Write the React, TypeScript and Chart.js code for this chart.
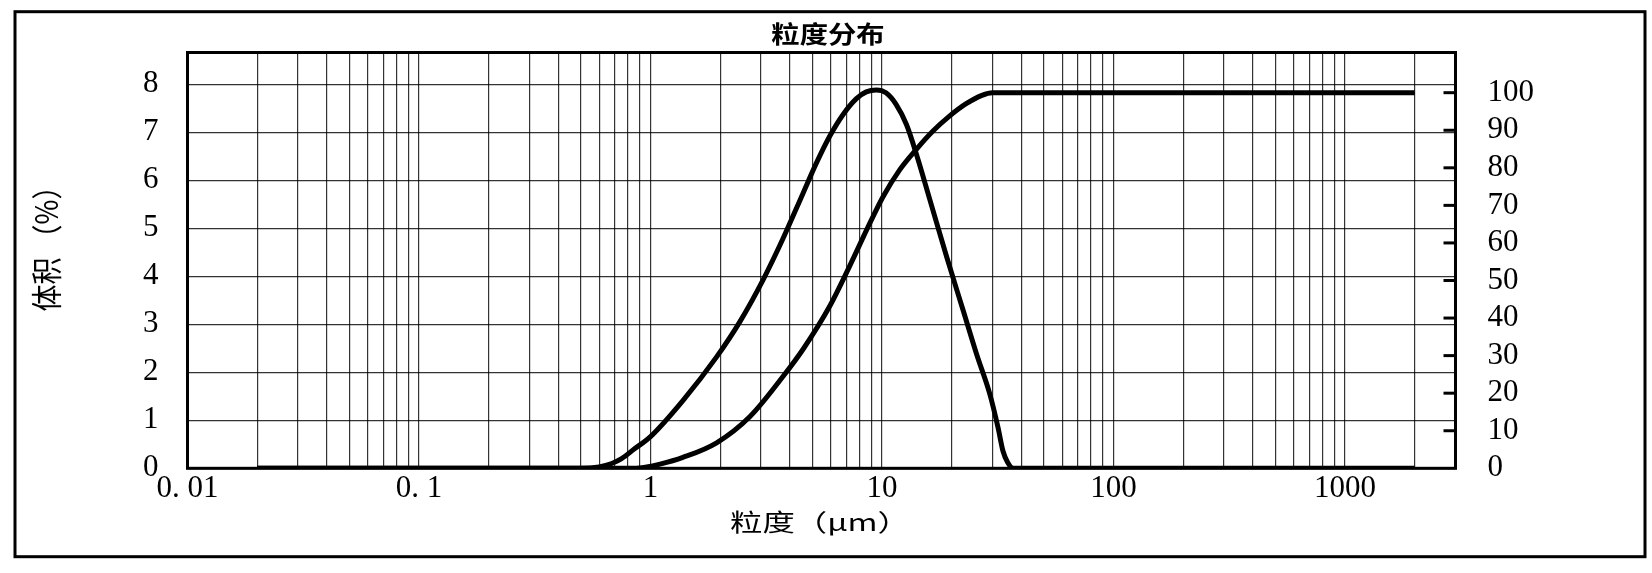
import React, { useEffect, useRef } from 'react';
import { Chart, registerables } from 'chart.js';

Chart.register(...registerables);

const W = 1652;
const H = 573;

// Frequency curve (体积 %, left axis)
const freqSizes = [0.02, 0.5, 0.6, 0.68, 0.75, 0.85, 1.0, 1.38, 1.93, 2.43, 3.06, 3.74, 4.56, 5.21, 5.95, 6.79, 7.75, 8.55, 9.45, 10.4, 11.5, 12.75, 14.1, 16.1, 19.0, 22.4, 25.6, 29.2, 31.7, 33.3, 34.9, 36.9, 2000];
const freqValues = [0, 0, 0.03, 0.1, 0.2, 0.4, 0.66, 1.41, 2.32, 3.05, 3.92, 4.79, 5.73, 6.36, 6.92, 7.37, 7.7, 7.84, 7.88, 7.82, 7.58, 7.16, 6.53, 5.59, 4.41, 3.29, 2.38, 1.55, 0.85, 0.36, 0.12, 0, 0];

// Cumulative curve (right axis)
const cumSizes = [0.02, 0.85, 0.95, 1.1, 1.38, 1.93, 2.69, 3.74, 4.56, 5.95, 7.23, 8.85, 10.1, 11.9, 14.1, 16.6, 19.5, 23.0, 27.0, 30.0, 2000];
const cumValues = [0, 0, 0.3, 1.1, 2.9, 6.8, 13.8, 24.5, 31.7, 43.2, 53.7, 65.2, 72.3, 79.4, 85.0, 89.8, 93.7, 97.0, 99.3, 100, 100];

const xDecades = [0.01, 0.1, 1, 10, 100, 1000];
const xTickLabels = ['0. 01', '0. 1', '1', '10', '100', '1000'];
const xGridMultipliers = [1, 2, 3, 4, 5, 6, 7, 8, 9];
const xGridLast = 2000;
const xMin = 0.01;
const xMax = 3000;

const leftTicks = [0, 1, 2, 3, 4, 5, 6, 7, 8];
const leftMax = 8.66;
const rightTicks = [0, 10, 20, 30, 40, 50, 60, 70, 80, 90, 100];
const rightMax = 110.7;

const chartTitle = '粒度分布';
const xTitle = '粒度（μm）';
const yTitle = '体积 （%）';

const xGridValues: number[] = [];
xDecades.forEach((d) => {
  xGridMultipliers.forEach((m) => {
    const v = +(d * m).toPrecision(6);
    if (v <= xGridLast) xGridValues.push(v);
  });
});

function drawText(ctx: CanvasRenderingContext2D, text: string, cx: number, cy: number, font: string, sx: number, sy: number, rot: number) {
  ctx.save();
  ctx.translate(cx, cy);
  ctx.rotate(rot);
  ctx.scale(sx, sy);
  ctx.font = font;
  ctx.fillStyle = '#000';
  ctx.textAlign = 'center';
  ctx.textBaseline = 'middle';
  ctx.fillText(text, 0, 0);
  ctx.restore();
}

const framePlugin = {
  id: 'framePlugin',
  afterDraw(chart: any) {
    const { ctx, chartArea: a } = chart;
    ctx.save();
    ctx.strokeStyle = '#000';
    ctx.lineWidth = 3;
    ctx.strokeRect(15, 11.7, 1630, 545);
    ctx.strokeRect(a.left, a.top, a.right - a.left, a.bottom - a.top);
    const y1 = chart.scales.y1;
    rightTicks.forEach((v) => {
      if (v === 0) return;
      const py = y1.getPixelForValue(v);
      ctx.beginPath();
      ctx.moveTo(a.right - 12, py);
      ctx.lineTo(a.right, py);
      ctx.stroke();
    });
    drawText(ctx, chartTitle, 828, 34, 'bold 24px "Noto Sans CJK SC"', 1.18, 1, 0);
    drawText(ctx, xTitle, 820, 521.5, '24px "Noto Sans CJK SC"', 1.35, 1, 0);
    drawText(ctx, yTitle, 46, 242, '27px "Noto Sans CJK SC"', 1, 1.15, -Math.PI / 2);
    ctx.restore();
  },
};

const tickFont = { family: '"Liberation Serif", "Times New Roman", serif', size: 31 };
const gridColor = 'rgba(0,0,0,0.8)';

export default function App() {
  const ref = useRef<HTMLCanvasElement | null>(null);
  useEffect(() => {
    const canvas = ref.current;
    if (!canvas) return;
    const chart = new Chart(canvas, {
      type: 'line',
      data: {
        datasets: [
          {
            label: '体积',
            data: freqSizes.map((x, i) => ({ x, y: freqValues[i] })),
            yAxisID: 'y',
            borderColor: '#000',
            borderWidth: 5,
            pointRadius: 0,
            fill: false,
            cubicInterpolationMode: 'monotone',
          },
          {
            label: '累计',
            data: cumSizes.map((x, i) => ({ x, y: cumValues[i] })),
            yAxisID: 'y1',
            borderColor: '#000',
            borderWidth: 5,
            pointRadius: 0,
            fill: false,
            cubicInterpolationMode: 'monotone',
          },
        ],
      },
      options: {
        responsive: false,
        animation: false,
        devicePixelRatio: 1,
        layout: { padding: { top: 52.5, left: 0, right: 0, bottom: 0 } },
        plugins: {
          legend: { display: false },
          title: { display: false },
          tooltip: { enabled: false },
        },
        scales: {
          x: {
            type: 'logarithmic',
            position: 'bottom',
            min: xMin,
            max: xMax,
            afterBuildTicks: (scale: any) => {
              scale.ticks = xGridValues.map((v) => ({ value: v }));
            },
            afterFit: (scale: any) => {
              scale.height = H - 468.3;
            },
            ticks: {
              autoSkip: false,
              maxRotation: 0,
              minRotation: 0,
              padding: 2,
              color: '#000',
              font: tickFont,
              callback: (value: any) => {
                const v = Number(value);
                const idx = xDecades.findIndex((d) => Math.abs(v - d) / d < 1e-6);
                return idx >= 0 ? xTickLabels[idx] : '';
              },
            },
            grid: { color: gridColor, lineWidth: 1.2, drawTicks: false },
            border: { display: false },
          },
          y: {
            type: 'linear',
            position: 'left',
            min: 0,
            max: leftMax,
            afterBuildTicks: (scale: any) => {
              scale.ticks = leftTicks.map((v) => ({ value: v }));
            },
            afterFit: (scale: any) => {
              scale.width = 187.5;
            },
            ticks: { padding: 29, color: '#000', font: tickFont },
            grid: { color: gridColor, lineWidth: 1.2, drawTicks: false },
            border: { display: false },
          },
          y1: {
            type: 'linear',
            position: 'right',
            min: 0,
            max: rightMax,
            afterBuildTicks: (scale: any) => {
              scale.ticks = rightTicks.map((v) => ({ value: v }));
            },
            afterFit: (scale: any) => {
              scale.width = W - 1455.5;
            },
            ticks: { padding: 32, color: '#000', font: tickFont },
            grid: { drawOnChartArea: false, drawTicks: false },
            border: { display: false },
          },
        },
      } as any,
      plugins: [framePlugin],
    });
    return () => chart.destroy();
  }, []);

  return (
    <div style={{ position: 'absolute', left: 0, top: 0, width: W, height: H, background: '#fff' }}>
      <canvas ref={ref} width={W} height={H} style={{ width: W, height: H, display: 'block' }} />
    </div>
  );
}
